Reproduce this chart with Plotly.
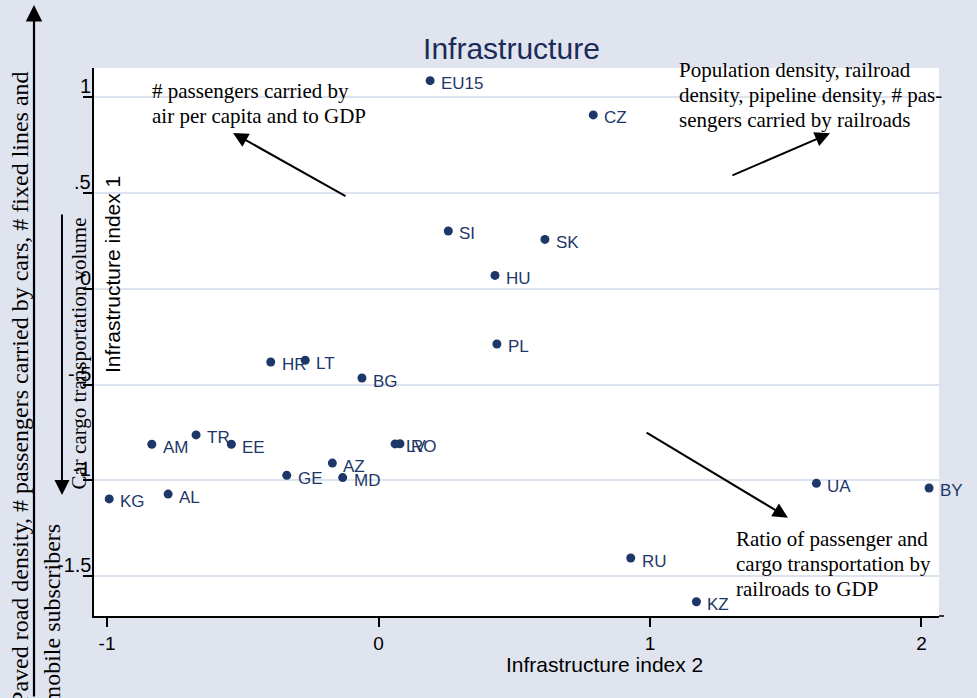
import plotly.graph_objects as go

# Country codes and their scores on the two infrastructure indices
countries = ["EU15", "CZ", "SI", "SK", "HU", "PL", "HR", "LT", "BG", "AM", "TR", "EE",
             "LV", "RO", "AZ", "GE", "MD", "KG", "AL", "UA", "BY", "RU", "KZ"]
index2 = [0.190, 0.791, 0.257, 0.613, 0.429, 0.436, -0.397, -0.270, -0.061, -0.835, -0.672, -0.542,
          0.061, 0.079, -0.170, -0.338, -0.132, -0.992, -0.775, 1.613, 2.028, 0.929, 1.171]
index1 = [1.087, 0.908, 0.302, 0.258, 0.070, -0.288, -0.382, -0.373, -0.466, -0.812, -0.763, -0.812,
          -0.810, -0.809, -0.910, -0.974, -0.986, -1.097, -1.072, -1.016, -1.040, -1.406, -1.634]

x_tickvals = [-1, 0, 1, 2]
x_ticktext = ["-1", "0", "1", "2"]
y_tickvals = [1, 0.5, 0, -0.5, -1, -1.5]
y_ticktext = ["1", ".5", "0", "-.5", "-1", "-1.5"]

# Loadings notes written into the plot region (anchor = left edge of first line)
notes = [
    ((-0.839, 1.034), ["# passengers carried by", "air per capita and to GDP"]),
    ((1.102, 1.143), ["Population density, railroad", "density, pipeline density, # pas-",
                      "sengers carried by railroads"]),
    ((1.313, -1.307), ["Ratio of passenger and", "cargo transportation by", "railroads to GDP"]),
]
# Arrows: (head x, head y, tail x, tail y) in data units
arrows = [
    (-0.536, 0.814, -0.116, 0.479),
    (1.663, 0.812, 1.298, 0.589),
    (1.508, -1.195, 0.982, -0.746),
]

NAVY = "#1d3768"
BG = "#dfe4ef"
SANS = "Liberation Sans, Arial, sans-serif"
SERIF = "Liberation Serif, Times New Roman, serif"

fig = go.Figure()
fig.add_trace(go.Scatter(
    x=index2, y=index1, mode="markers",
    marker=dict(size=9, color=NAVY),
    hoverinfo="text", text=countries, showlegend=False,
))

ann = []
# marker labels at 3 o'clock
for c, xv, yv in zip(countries, index2, index1):
    ann.append(dict(x=xv, y=yv, xref="x", yref="y", text=c, showarrow=False,
                    xanchor="left", yanchor="middle", xshift=10, yshift=-3, borderpad=0,
                    font=dict(family=SANS, size=17, color=NAVY)))

# y tick labels, sitting just above their ticks
for v, t in zip(y_tickvals, y_ticktext):
    ann.append(dict(x=0, y=v, xref="paper", yref="y", text=t, showarrow=False,
                    xanchor="right", yanchor="middle", xshift=-2, yshift=11, borderpad=0,
                    font=dict(family=SANS, size=20, color="black")))

for (x0, y0), lines in notes:
    for i, line in enumerate(lines):
        ann.append(dict(x=x0, y=y0, xref="x", yref="y", text=line, showarrow=False,
                        xanchor="left", yanchor="middle", yshift=-25 * i, borderpad=0,
                        font=dict(family=SERIF, size=21, color="black")))

for hx, hy, tx, ty in arrows:
    ann.append(dict(x=hx, y=hy, xref="x", yref="y", ax=tx, ay=ty, axref="x", ayref="y",
                    text="", showarrow=True, arrowhead=2, arrowsize=1.5, arrowwidth=2,
                    arrowcolor="black", standoff=0, startstandoff=0))

# axis titles
ann.append(dict(x=0.6036, y=-0.0894, xref="paper", yref="paper", text="Infrastructure index 2",
                showarrow=False, xanchor="center", yanchor="middle", borderpad=0,
                font=dict(family=SANS, size=21, color="black")))
ann.append(dict(x=0.0225, y=0.6223, xref="paper", yref="paper", text="Infrastructure index 1",
                showarrow=False, xanchor="center", yanchor="middle", textangle=-90, borderpad=0,
                font=dict(family=SANS, size=21, color="black")))

# direction arrows and descriptions along the vertical axis
ann.append(dict(x=-0.0710, y=1.115, xref="paper", yref="paper", ax=0, ay=700,
                text="", showarrow=True, arrowhead=2, arrowsize=1.5, arrowwidth=2.2,
                arrowcolor="black", standoff=0))
ann.append(dict(x=-0.0379, y=0.2208, xref="paper", yref="paper", ax=0, ay=-282,
                text="", showarrow=True, arrowhead=2, arrowsize=1.5, arrowwidth=2,
                arrowcolor="black", standoff=0))
ann.append(dict(x=-0.0178, y=0.479, xref="paper", yref="paper",
                text="Car cargo transportation volume", showarrow=False, textangle=-90,
                xanchor="center", yanchor="middle", borderpad=0,
                font=dict(family=SERIF, size=21, color="black")))
ann.append(dict(x=-0.0876, y=-0.1642, xref="paper", yref="paper",
                text="Paved road density, # passengers carried by cars, # fixed lines and",
                showarrow=False, textangle=-90, xanchor="center", yanchor="bottom", borderpad=0,
                font=dict(family=SERIF, size=24, color="black")))
ann.append(dict(x=-0.0497, y=-0.1642, xref="paper", yref="paper",
                text="mobile subscribers",
                showarrow=False, textangle=-90, xanchor="center", yanchor="bottom", borderpad=0,
                font=dict(family=SERIF, size=24, color="black")))

fig.update_layout(
    width=977, height=698,
    margin=dict(l=94, r=38, t=68, b=82),
    paper_bgcolor=BG, plot_bgcolor="white",
    title=dict(text="Infrastructure", x=0.5235, xref="container", xanchor="center",
               y=0.931, yref="container", yanchor="middle",
               font=dict(family=SANS, size=30, color="#1c2b58")),
    xaxis=dict(range=[-1.048, 2.0645], showgrid=False, zeroline=False,
               showline=True, linecolor="black", linewidth=1.5,
               ticks="outside", ticklen=9, tickwidth=1.5, tickcolor="black",
               tickvals=x_tickvals, ticktext=x_ticktext, ticklabelstandoff=0,
               tickfont=dict(family=SANS, size=19, color="black")),
    yaxis=dict(range=[-1.7086, 1.153], showgrid=True, gridcolor="#dce2ee", gridwidth=2,
               zeroline=False, showline=True, linecolor="black", linewidth=1.5,
               ticks="outside", ticklen=9, tickwidth=1.5, tickcolor="black",
               tickvals=y_tickvals, showticklabels=False),
    annotations=ann,
    shapes=[dict(type="line", xref="paper", yref="paper", x0=1, x1=1.006, y0=0, y1=0,
                 line=dict(color="black", width=1.5))],
)

fig.write_html("out.html")
